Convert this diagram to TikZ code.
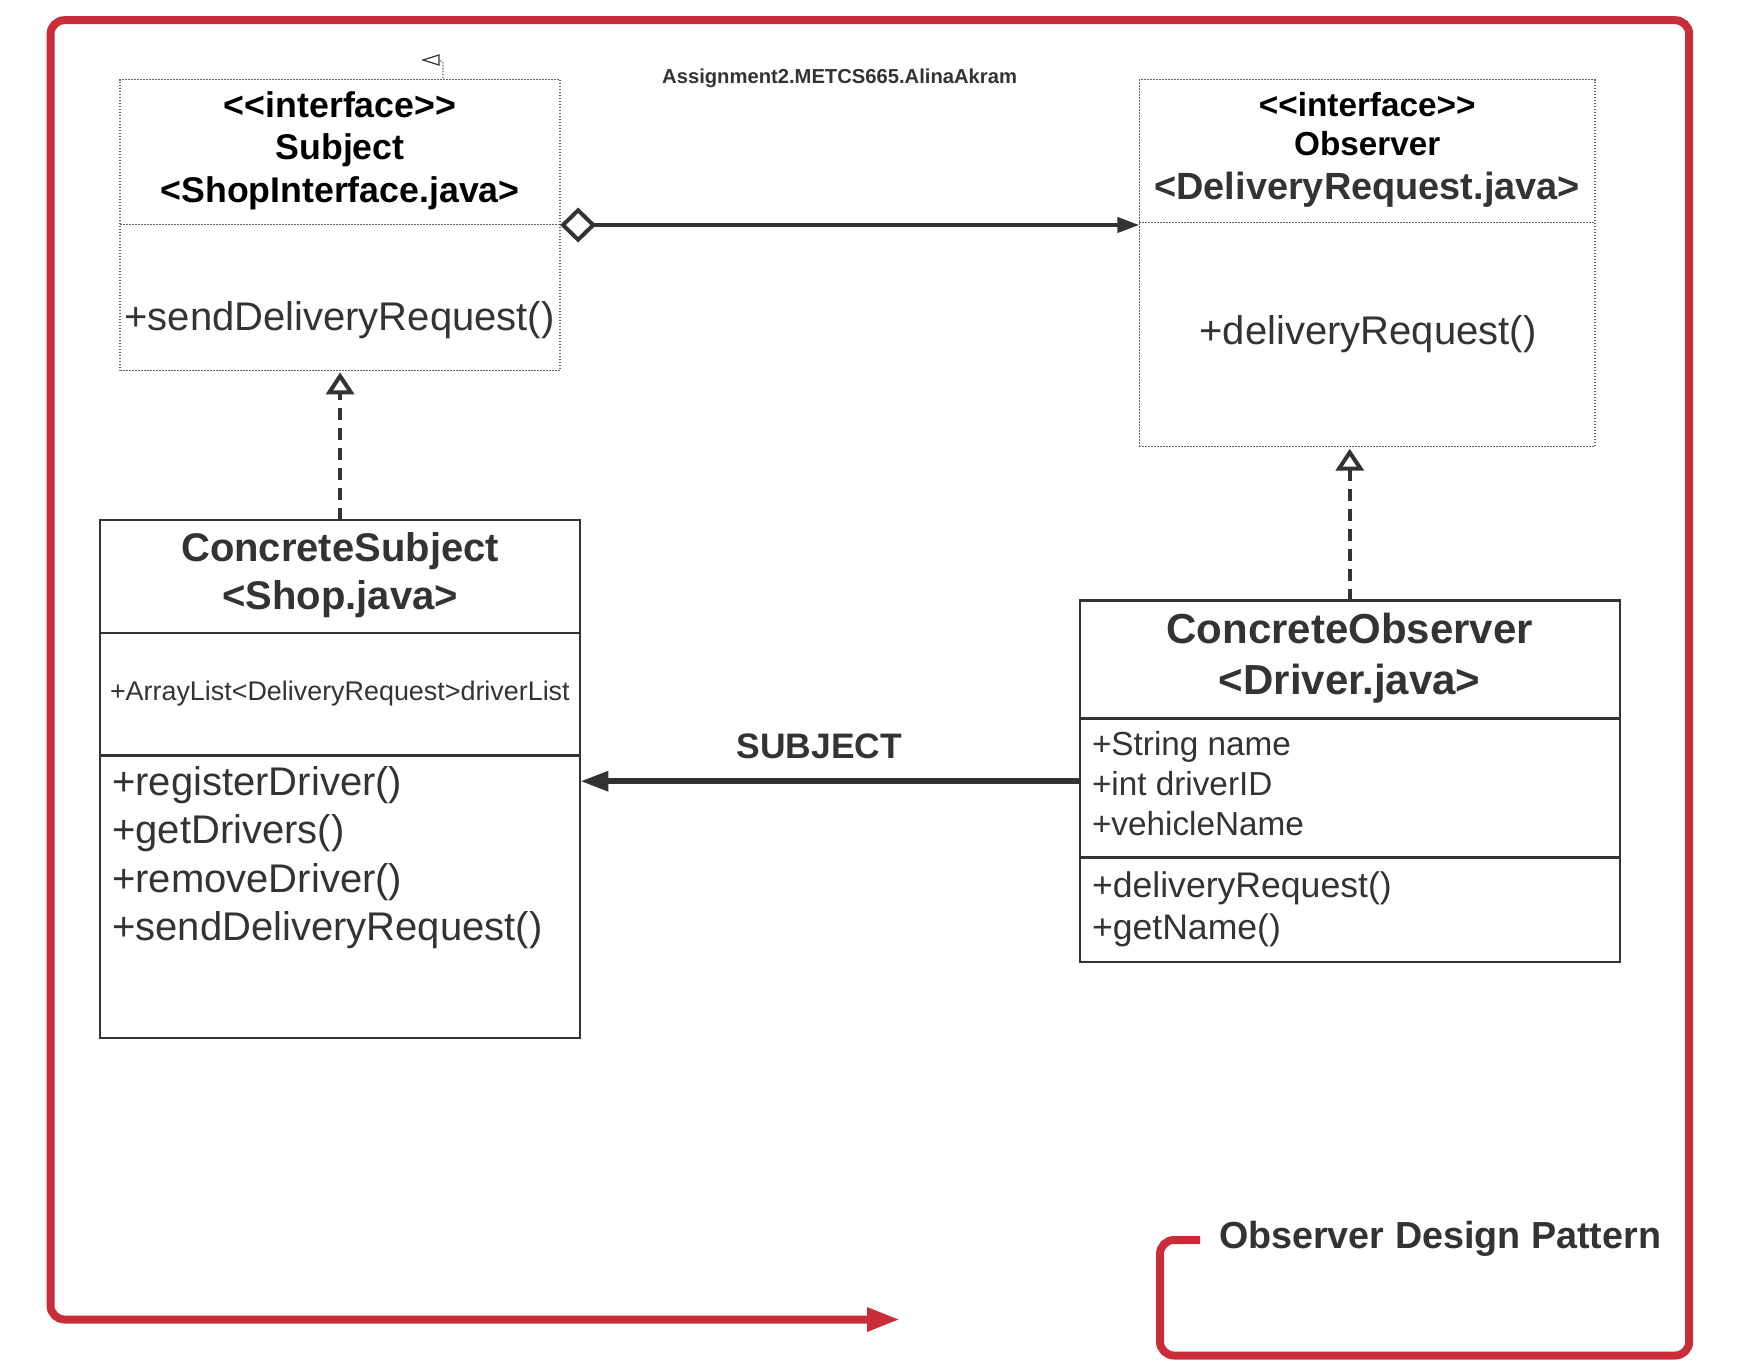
\documentclass[tikz,border=0pt]{standalone}
\usepackage{fontspec}
\setmainfont{Liberation Sans}[Ligatures=TeXOff]
\usetikzlibrary{arrows.meta}
\definecolor{ink}{HTML}{333333}
\definecolor{framered}{HTML}{C92D39}
\definecolor{dotgray}{HTML}{666666}
\begin{document}
\begin{tikzpicture}[x=0.5pt,y=-0.5pt,
  iface/.style={draw=dotgray, line width=0.65pt, dash pattern=on 0.7pt off 0.8pt, inner sep=0, outer sep=0},
  cls/.style={draw=ink, line width=1.1pt, inner sep=0, outer sep=0},
  divider/.style={draw=ink, line width=1.1pt},
  idivider/.style={draw=dotgray, line width=0.65pt, dash pattern=on 0.7pt off 0.8pt},
  fs/.style={font=\fontsize{#1pt}{#1pt}\selectfont},
  fsb/.style={font=\fontsize{#1pt}{#1pt}\selectfont\bfseries},
  lbl/.style={inner sep=0, outer sep=0, anchor=base, text=ink},
  lbll/.style={inner sep=0, outer sep=0, anchor=base west, text=ink},
  realize/.style={draw=ink, line width=2pt, dash pattern=on 6pt off 4pt,
    -{Triangle[open, length=11pt, width=14pt, fill=white, line width=2pt]}},
  aggr/.style={draw=ink, line width=2pt,
    {Diamond[open, length=18pt, width=17.5pt, fill=white, line width=2pt]}-{Triangle[length=11pt, width=7.5pt]}},
  assoc/.style={draw=ink, line width=3pt, -{Triangle[length=14pt, width=9.5pt]}},
  redframe/.style={draw=framered, line width=4pt, rounded corners=7pt,
    -{Triangle[length=16.5pt, width=11pt]}}
]
\useasboundingbox (0,0) rectangle (1760,1360);

% ---------- outer frame ----------
\draw[redframe] (1200,1240) -- (1160,1240) -- (1160,1355.5) -- (1689.2,1355.5)
  -- (1689.2,20.2) -- (50.5,20.2) -- (50.5,1319.5) -- (900.2,1319.5);

% ---------- title ----------
\node[lbl, fsb=10.1] (title) at (839.6,83.6) {Assignment2.METCS665.AlinaAkram};

% ---------- Subject interface ----------
\node[iface, minimum width=220pt, minimum height=145.35pt] (subj) at (340.1,225) {};
\draw[idivider] (subj.west |- 0,224.5) -- (subj.east |- 0,224.5);
\node[lbl, fsb=17.85, text=black] (subjA) at (340.1,117.3) {<<interface>>};
\node[lbl, fsb=17.85, text=black] (subjB) at (340.1,159.9) {Subject};
\node[lbl, fsb=17.85, text=black] (subjC) at (340.1,202.6) {<ShopInterface.java>};
\node[lbl, fs=20] (subjM) at (339.5,330.9) {+sendDeliveryRequest()};
% small marker above the box
\draw[ink, line width=0.6pt] (423,60) -- (439,55) -- (439,65) -- cycle;
\draw[dotgray, line width=0.6pt, dash pattern=on 0.7pt off 0.8pt, rounded corners=1pt] (440,61) -- (443,61) -- (443,80);

% ---------- Observer interface ----------
\node[iface, minimum width=227.85pt, minimum height=183.5pt] (obs) at (1367.2,263.2) {};
\draw[idivider] (obs.west |- 0,222.2) -- (obs.east |- 0,222.2);
\node[lbl, fsb=16.65, text=black] (obsA) at (1367.2,116.4) {<<interface>>};
\node[lbl, fsb=16.65, text=black] (obsB) at (1367.2,155.7) {Observer};
\node[lbl, fsb=18.95] (obsC) at (1367.2,199.9) {<DeliveryRequest.java>};
\node[lbl, fs=20] (obsM) at (1368,344.4) {+deliveryRequest()};

% ---------- ConcreteSubject ----------
\node[cls, minimum width=240.2pt, minimum height=259.25pt] (csub) at (340.1,778.95) {};
\draw[divider] (csub.west |- 0,633) -- (csub.east |- 0,633);
\draw[divider] (csub.west |- 0,755.4) -- (csub.east |- 0,755.4);
\node[lbl, fsb=20] (csubA) at (340.1,561) {ConcreteSubject};
\node[lbl, fsb=20] (csubB) at (340.1,609.3) {<Shop.java>};
\node[lbll, fs=13.45] (csubF) at (110,700) {+ArrayList<DeliveryRequest>driverList};
\node[lbll, fs=20] (csubM1) at (112.2,795.6) {+registerDriver()};
\node[lbll, fs=20] (csubM2) at (112.2,843.9) {+getDrivers()};
\node[lbll, fs=20] (csubM3) at (112.2,892.1) {+removeDriver()};
\node[lbll, fs=20] (csubM4) at (112.2,940.4) {+sendDeliveryRequest()};

% ---------- ConcreteObserver ----------
\node[cls, minimum width=269.95pt, minimum height=180.7pt] (cobs) at (1349.75,781.2) {};
\draw[divider] (cobs.west |- 0,718.4) -- (cobs.east |- 0,718.4);
\draw[divider] (cobs.west |- 0,857.5) -- (cobs.east |- 0,857.5);
\node[lbl, fsb=21] (cobsA) at (1349.75,643.6) {ConcreteObserver};
\node[lbl, fsb=21] (cobsB) at (1349.75,694.1) {<Driver.java>};
\node[lbll, fs=16.65] (cobsF1) at (1092,755) {+String name};
\node[lbll, fs=16.65] (cobsF2) at (1092,795.4) {+int driverID};
\node[lbll, fs=16.65] (cobsF3) at (1092,835.9) {+vehicleName};
\node[lbll, fs=17.8] (cobsM1) at (1092,897.3) {+deliveryRequest()};
\node[lbll, fs=17.8] (cobsM2) at (1092,939.9) {+getName()};

% ---------- connectors ----------
\draw[aggr] (subj.east) -- (subj.east -| obs.west);
\draw[realize] (csub.north) -- ([yshift=-1pt]subj.south);
\draw[realize] (cobs.north) -- ([yshift=-1pt]cobs.north |- obs.south);
\draw[assoc] (cobs.west) -- (cobs.west -| csub.east);
\node[lbl, fsb=17.7] (assocL) at (819.4,758) {SUBJECT};

% ---------- caption ----------
\node[lbll, fsb=18.85] (caption) at (1219,1248.2) {Observer Design Pattern};
\end{tikzpicture}
\end{document}
